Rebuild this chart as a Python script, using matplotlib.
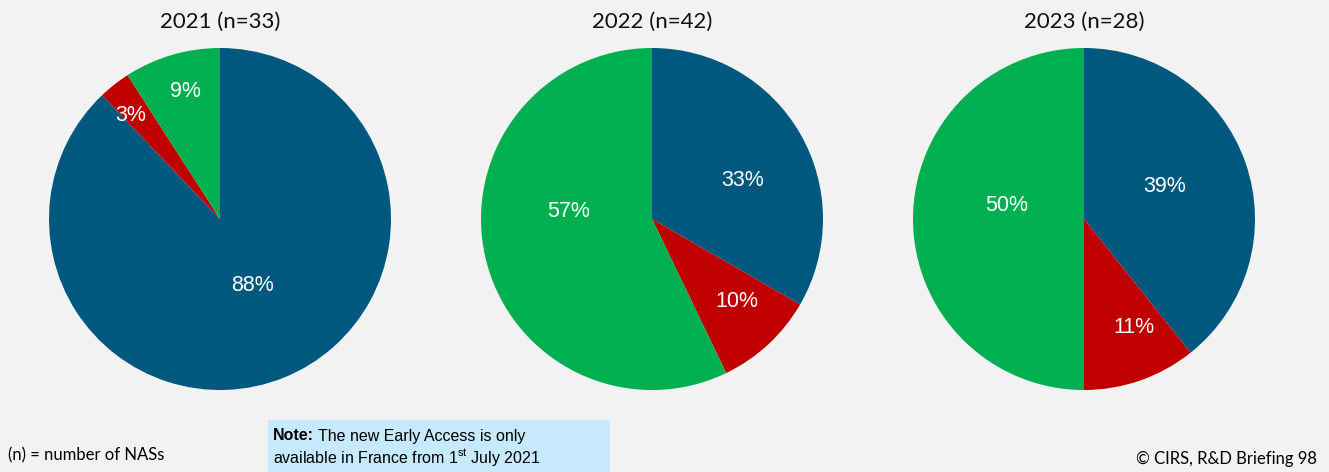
import numpy as np
import matplotlib.pyplot as plt
from matplotlib.patches import Rectangle

plt.rcParams['mathtext.fontset'] = 'custom'
plt.rcParams['mathtext.rm'] = 'Liberation Sans'

# NAS counts per year: EU-approved / other / early access
years = ["2021", "2022", "2023"]
totals = [33, 42, 28]
blue_counts = [29, 14, 11]
red_counts = [1, 4, 3]
green_counts = [3, 24, 14]
# label placement: distance from centre (fraction of radius) and angle nudge (deg)
label_dist = [[0.43, 0.80, 0.775], [0.574, 0.691, 0.488], [0.509, 0.696, 0.457]]
label_nudge = [[4.3, 2.7, -1.3], [-7.2, 2.8, -18.1], [2.3, 5.5, -9.6]]

colors = ['#00587f', '#c00000', '#00b050']
bg = '#f2f2f2'

W, H = 1329, 472
fig = plt.figure(figsize=(W / 100, H / 100), dpi=100, facecolor=bg)

centers_x = [220, 652, 1084]
cy, r = 219, 171

for k in range(3):
    cx = centers_x[k]
    ax = fig.add_axes([(cx - r) / W, (H - cy - r) / H, 2 * r / W, 2 * r / H])
    ax.set_facecolor(bg)
    vals = [blue_counts[k], red_counts[k], green_counts[k]]
    wedges, _ = ax.pie(vals, colors=colors, startangle=90, counterclock=False,
                       radius=1, wedgeprops=dict(linewidth=0))
    ax.set_xlim(-1, 1)
    ax.set_ylim(-1, 1)
    ax.set_aspect('equal')
    ax.axis('off')
    for j, w in enumerate(wedges):
        mid = np.deg2rad((w.theta1 + w.theta2) / 2 + label_nudge[k][j])
        d = label_dist[k][j]
        pct = 100 * vals[j] / totals[k]
        ax.text(d * np.cos(mid), d * np.sin(mid), f"{pct:.0f}%", color='white',
                fontsize=15.5, family='Liberation Sans', ha='center', va='center')
    fig.text(cx / W, 1 - 22 / H, f"{years[k]} (n={totals[k]})", fontsize=16,
             family='Lato', ha='center', va='center', color='#111111')

fig.text(8 / W, 1 - 455 / H, "(n) = number of NASs", fontsize=12, family='Lato',
         ha='left', va='center')

fig.patches.append(Rectangle((268 / W, 0), (610 - 268) / W, 52 / H,
                             transform=fig.transFigure, facecolor='#c6eafb',
                             edgecolor='none'))
note_bold = fig.text(273 / W, 1 - 436 / H, "Note:", fontsize=11.5,
                     family='Liberation Sans', weight='bold', ha='left', va='center')
fig.canvas.draw()
bb = note_bold.get_window_extent()
fig.text((bb.x1 + 4) / W, 1 - 436 / H, "The new Early Access is only",
         fontsize=11.5, family='Liberation Sans', ha='left', va='center')
fig.text(273 / W, 1 - 458 / H, r"available in France from 1$^{\rm st}$ July 2021",
         fontsize=11.5, family='Liberation Sans', ha='left', va='center')

fig.text(1317 / W, 1 - 459 / H, "© CIRS, R&D Briefing 98", fontsize=12,
         family='Lato', ha='right', va='center')

fig.savefig('out.png', dpi=100, facecolor=bg)
